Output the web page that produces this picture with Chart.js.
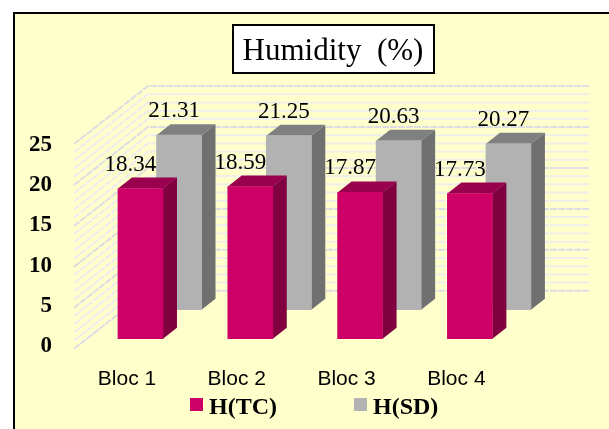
<!DOCTYPE html>
<html>
<head>
<meta charset="utf-8">
<title>Humidity (%)</title>
<script src="https://cdn.jsdelivr.net/npm/chart.js@4"></script>
<style>
  html, body { margin: 0; padding: 0; background: #fff; }
  body { position: relative; width: 609px; height: 429px; overflow: hidden; }
  .frame { position: absolute; left: 13px; top: 12px; right: 0; bottom: 0; background: #ffffcc; border-left: 2px solid #000; border-top: 2px solid #000; }
  canvas { position: absolute; left: 0; top: 0; }
</style>
</head>
<body>
<div class="frame"></div>
<canvas id="humidityChart" width="609" height="429"></canvas>
<script>
const categories = ['Bloc 1', 'Bloc 2', 'Bloc 3', 'Bloc 4'];
const tcValues = [18.34, 18.59, 17.87, 17.73];
const sdValues = [21.31, 21.25, 20.63, 20.27];
const yTicks = [0, 5, 10, 15, 20, 25];
const wallLevels = [...Array(26).keys()];

const SERIF = '"Liberation Serif", "Times New Roman", serif';
const DEPTH = { dx: 14, dy: 11 };

// draws the wall lines behind the bars: back wall plus the slanted left side
const wallPlugin = {
  id: 'wall',
  beforeDatasetsDraw(chart) {
    const { ctx, scales } = chart;
    ctx.save();
    wallLevels.forEach(v => {
      const y = scales.y.getPixelForValue(v) - 48;
      ctx.strokeStyle = v % 5 === 0 ? '#dcdce4' : '#ececf0';
      ctx.lineWidth = 2;
      ctx.setLineDash([7, 1]);
      ctx.beginPath();
      ctx.moveTo(74, y + 58);
      ctx.lineTo(148, y);
      ctx.lineTo(590, y);
      ctx.stroke();
    });
    ctx.restore();
  }
};

// side and top faces go in right before the front face of the same dataset
const facesPlugin = {
  id: 'faces',
  beforeDatasetDraw(chart, args) {
    const { ctx } = chart;
    const ds = chart.data.datasets[args.index];
    args.meta.data.forEach(bar => {
      const l = bar.x - bar.width / 2, r = bar.x + bar.width / 2;
      ctx.fillStyle = ds.topColor;
      ctx.beginPath();
      ctx.moveTo(l, bar.y);
      ctx.lineTo(l + DEPTH.dx, bar.y - DEPTH.dy);
      ctx.lineTo(r + DEPTH.dx, bar.y - DEPTH.dy);
      ctx.lineTo(r, bar.y);
      ctx.fill();
      ctx.fillStyle = ds.sideColor;
      ctx.beginPath();
      ctx.moveTo(r, bar.y);
      ctx.lineTo(r + DEPTH.dx, bar.y - DEPTH.dy);
      ctx.lineTo(r + DEPTH.dx, bar.base - DEPTH.dy);
      ctx.lineTo(r, bar.base);
      ctx.fill();
    });
  }
};

const valueLabelsPlugin = {
  id: 'valueLabels',
  afterDatasetsDraw(chart) {
    const { ctx } = chart;
    ctx.save();
    ctx.font = '23px ' + SERIF;
    ctx.fillStyle = '#000';
    ctx.textAlign = 'center';
    ctx.textBaseline = 'middle';
    chart.data.datasets.forEach((ds, i) => {
      chart.getDatasetMeta(i).data.forEach((bar, j) => {
        ctx.fillText(ds.data[j].y.toFixed(2), bar.x + ds.labelShift, bar.y - 24);
      });
    });
    ctx.restore();
  }
};

// white box under the title, and the title centred over the bars
const titleBoxPlugin = {
  id: 'titleBox',
  afterLayout(chart) {
    const t = chart.titleBlock;
    const half = (t.right - t.left) / 2;
    t.left = 333 - half;
    t.right = 333 + half;
  },
  beforeDraw(chart) {
    const { ctx } = chart;
    ctx.save();
    ctx.fillStyle = '#fff';
    ctx.strokeStyle = '#000';
    ctx.lineWidth = 2;
    ctx.fillRect(233, 25, 201, 48);
    ctx.strokeRect(233, 25, 201, 48);
    ctx.restore();
  }
};

const legendPlugin = {
  id: 'seriesLegend',
  afterDraw(chart) {
    const { ctx } = chart;
    const spots = [190, 354];
    ctx.save();
    ctx.font = 'bold 24px ' + SERIF;
    ctx.textBaseline = 'alphabetic';
    chart.data.datasets.forEach((ds, i) => {
      ctx.fillStyle = ds.backgroundColor;
      ctx.fillRect(spots[i], 398, 13, 13);
      ctx.fillStyle = '#000';
      ctx.fillText(ds.label, spots[i] + 19, 414);
    });
    ctx.restore();
  }
};

new Chart(document.getElementById('humidityChart'), {
  type: 'bar',
  data: {
    datasets: [
      {
        label: 'H(TC)',
        data: tcValues.map((v, i) => ({ x: i + 1.123, y: v })),
        yAxisID: 'y',
        backgroundColor: '#cc0066',
        sideColor: '#800040',
        topColor: '#99004d',
        labelShift: -10,
        order: 1
      },
      {
        label: 'H(SD)',
        data: sdValues.map((v, i) => ({ x: i + 1.474, y: v })),
        yAxisID: 'y2',
        backgroundColor: '#b2b2b2',
        sideColor: '#707070',
        topColor: '#808080',
        labelShift: -5,
        order: 2
      }
    ]
  },
  options: {
    responsive: false,
    animation: false,
    clip: false,
    grouped: false,
    barThickness: 45,
    layout: { padding: { left: 21, right: 9, top: 0, bottom: 24 } },
    plugins: {
      legend: { display: false },
      tooltip: { enabled: false },
      title: {
        display: true,
        text: 'Humidity  (%)',
        color: '#000',
        font: { family: SERIF, size: 31, weight: 'normal' },
        padding: { top: 33, bottom: 18 }
      }
    },
    scales: {
      x: {
        type: 'linear',
        offset: false,
        min: 0.463,
        max: 5.308,
        grid: { display: false },
        border: { display: false },
        afterBuildTicks(scale) { scale.ticks = categories.map((c, i) => ({ value: i + 1 })); },
        ticks: {
          color: '#000',
          padding: 13,
          maxRotation: 0,
          autoSkip: false,
          font: { family: '"Liberation Sans", Arial, sans-serif', size: 21 },
          callback: v => categories[v - 1]
        }
      },
      // front row of bars
      y: { display: false, min: -0.857, max: 30.6 },
      // back row, same unit size but the base sits higher up
      y2: { display: false, min: -4.407, max: 27.05 },
      yLabels: {
        position: 'left',
        min: 0,
        max: 32.125,
        grid: { display: false },
        border: { display: false },
        afterBuildTicks(scale) { scale.ticks = yTicks.map(v => ({ value: v })); },
        ticks: {
          color: '#000',
          padding: 8,
          font: { family: SERIF, size: 23, weight: 'bold' }
        }
      }
    }
  },
  plugins: [wallPlugin, facesPlugin, valueLabelsPlugin, titleBoxPlugin, legendPlugin]
});
</script>
</body>
</html>
